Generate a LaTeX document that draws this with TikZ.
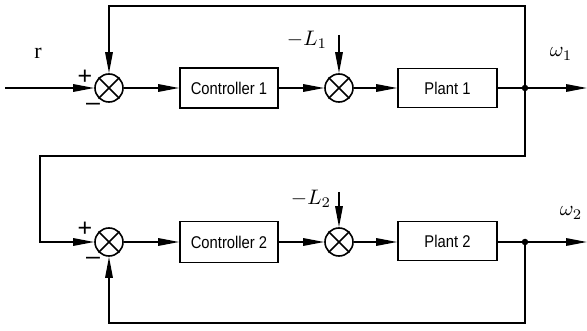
\documentclass[tikz,border=0pt]{standalone}
\usepackage{fontspec}
\usepackage{graphicx}
\newfontfamily\boxfont[FakeStretch=0.87]{Liberation Sans}
\newfontfamily\signfont{Liberation Sans}
\newfontfamily\serfont{Liberation Serif}
\usetikzlibrary{arrows.meta}
\newcommand{\bigmath}[1]{\scalebox{2.1}{$#1$}}
\tikzset{
  sig/.style={line width=1.6pt, -{Triangle[length=21pt,width=7.5pt]}},
  wire/.style={line width=1.6pt},
  blockbox/.style={draw, line width=1.6pt, minimum width=98pt, minimum height=40pt, inner sep=0pt, font=\boxfont\fontsize{17}{20}\selectfont},
  sumnode/.style={draw, circle, line width=1.6pt, minimum size=28pt, inner sep=0pt},
  junct/.style={fill, circle, minimum size=6.5pt, inner sep=0pt},
  mlabel/.style={inner sep=0pt},
  sgn/.style={font=\signfont\fontsize{25}{28}\selectfont, inner sep=0pt}
}
\begin{document}
\begin{tikzpicture}[x=1pt,y=-1pt]
\useasboundingbox (0,0) rectangle (587,331);
% row 1
\coordinate (in) at (5,88);
\node[sumnode] (s1) at (109,88) {};
\node[blockbox] (c1) at (229,88) {Controller 1};
\node[sumnode] (s2) at (339,88) {};
\node[blockbox, minimum width=99pt, minimum height=39pt] (p1) at (447.5,88) {Plant 1};
\node[junct] (d1) at (525,88) {};
\coordinate (o1) at (587,88);
\coordinate (t1) at (525,6);
\coordinate (t2) at (109,6);
\coordinate (l1) at (339,35);
\coordinate (b1) at (525,156);
\coordinate (b2) at (40,156);
\coordinate (b3) at (40,242);
% row 2
\node[sumnode] (s3) at (109,242) {};
\node[blockbox, minimum height=41pt] (c2) at (229,242) {Controller 2};
\node[sumnode] (s4) at (339,242) {};
\node[blockbox, minimum width=99pt, minimum height=39pt] (p2) at (447.5,241) {Plant 2};
\node[junct] (d2) at (525,242) {};
\coordinate (o2) at (587,242);
\coordinate (l2) at (339,192);
\coordinate (f1) at (525,323);
\coordinate (f2) at (109,323);
% crosses
\foreach \s in {s1,s2,s3,s4}{
  \draw[wire] (\s.north west) -- (\s.south east);
  \draw[wire] (\s.north east) -- (\s.south west);
}
% connectors row 1
\draw[sig] (in) -- (s1);
\draw[sig] (s1) -- (c1);
\draw[sig] (c1) -- (s2);
\draw[sig] (s2) -- (p1);
\draw[wire] (p1) -- (d1);
\draw[sig] (d1) -- (o1);
\draw[sig] (d1.center) -- (t1) -- (t2) -- (s1);
\draw[sig] (l1) -- (s2);
\draw[sig] (d1.center) -- (b1) -- (b2) -- (b3) -- (s3);
% connectors row 2
\draw[sig] (s3) -- (c2);
\draw[sig] (c2) -- (s4);
\draw[sig] (s4) -- (p2.west |- s4);
\draw[wire] (p2.east |- d2) -- (d2);
\draw[sig] (d2) -- (o2);
\draw[sig] (l2) -- (s4);
\draw[sig] (d2.center) -- (f1) -- (f2) -- (s3);
% labels
\node[font=\serfont\fontsize{22}{24}\selectfont, inner sep=0pt] (r) at (38,53) {r};
\node[sgn] (pl1) at (85,77) {+};
\node[sgn] (mi1) at (93,107) {\textendash};
\node[sgn] (pl2) at (85,229) {+};
\node[sgn] (mi2) at (93,261) {\textendash};
\node[mlabel] (L1) at (307,40) {\bigmath{-L_1}};
\node[mlabel] (L2) at (311,199) {\bigmath{-L_2}};
\node[mlabel] (w1) at (561,54) {\bigmath{\omega_1}};
\node[mlabel] (w2) at (571,213) {\bigmath{\omega_2}};
\end{tikzpicture}
\end{document}
